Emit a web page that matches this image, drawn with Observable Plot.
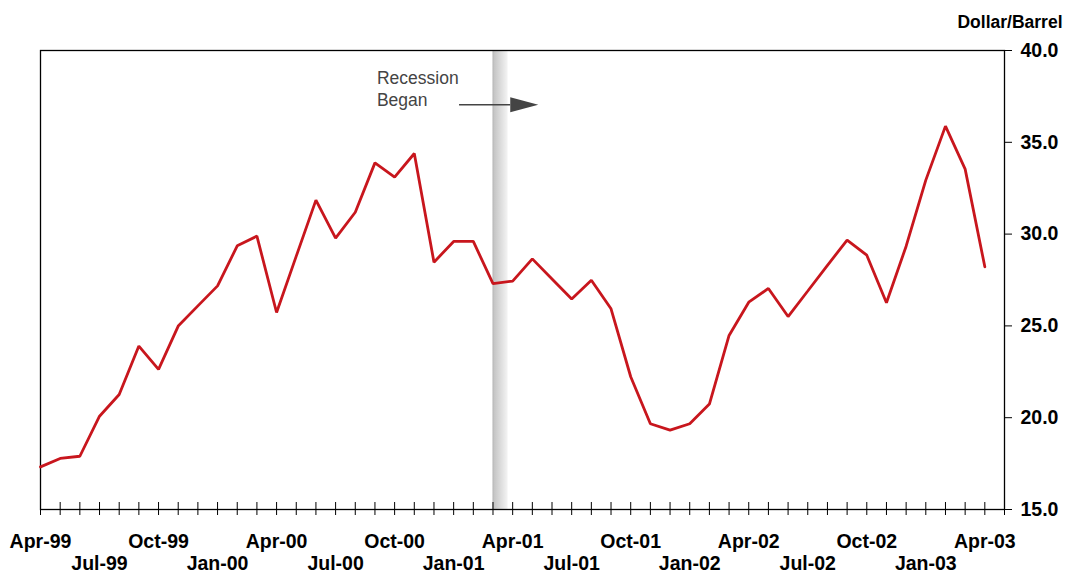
<!DOCTYPE html>
<html>
<head>
<meta charset="utf-8">
<script src="https://cdn.jsdelivr.net/npm/d3@7"></script>
<script src="https://cdn.jsdelivr.net/npm/@observablehq/plot@0.6"></script>
<style>
  html, body { margin: 0; padding: 0; background: #fff; }
  #chart svg { display: block; }
</style>
</head>
<body>
<div id="chart"></div>
<script>
// Monthly crude oil price, Apr-1999 through Apr-2003 (dollars per barrel)
const firstMonth = "Apr-99";
const prices = [
  17.32, 17.78, 17.90, 20.08, 21.26, 23.90, 22.63, 24.99, 26.09,               // 1999 Apr–Dec
  27.18, 29.36, 29.89, 25.73, 28.80, 31.85, 29.78, 31.19, 33.88, 33.10, 34.39, 28.47, // 2000
  29.60, 29.60, 27.30, 27.44, 28.65, 27.56, 26.47, 27.49, 25.93, 22.23, 19.67, 19.32, // 2001
  19.67, 20.74, 24.48, 26.29, 27.04, 25.51, 26.90, 28.30, 29.67, 28.85, 26.26, 29.34, // 2002
  32.94, 35.88, 33.54, 28.22                                                    // 2003 Jan–Apr
];

// Quarterly date labels on the month axis (one every three months)
const quarterLabels = [
  "Apr-99", "Jul-99", "Oct-99", "Jan-00", "Apr-00", "Jul-00", "Oct-00", "Jan-01", "Apr-01",
  "Jul-01", "Oct-01", "Jan-02", "Apr-02", "Jul-02", "Oct-02", "Jan-03", "Apr-03"
];

// Price axis ticks
const priceTicks = [15, 20, 25, 30, 35, 40];
const unitLabel = "Dollar/Barrel";

// Recession start (March 2001 = month index 23) and its note
const recession = [{ start: 23, end: 23.77 }];
const recessionNote = "Recession\nBegan";

const monthCount = prices.length; // axis runs one month past the last observation
const points = prices.map((p, i) => ({ month: i, price: p }));
const labels = quarterLabels.map((label, k) => ({ month: k * 3, label, row: k % 2 }));

// Filled arrowhead pointing right
const arrowHead = {
  draw(context) {
    context.moveTo(14, 0);
    context.lineTo(-14, -7.5);
    context.lineTo(-14, 7.5);
    context.closePath();
  }
};

const font = "'Liberation Sans', Arial, Helvetica, sans-serif";

const chart = Plot.plot({
  width: 1067,
  height: 574,
  marginLeft: 40,
  marginRight: 63,
  marginTop: 50,
  marginBottom: 65,
  style: { fontFamily: font, background: "#fff", overflow: "visible" },
  x: { domain: [0, monthCount], axis: null },
  y: { domain: [15, 40], axis: null },
  marks: [
    // shaded band at the start of the recession
    Plot.rect(recession, {
      x1: "start", x2: "end", y1: 15, y2: 40,
      fill: "url(#recessionShade)"
    }),
    Plot.frame({ stroke: "#000", strokeWidth: 1.3 }),

    // month tick marks crossing the bottom axis line
    Plot.ruleX(d3.range(monthCount + 1), {
      x: d => d, y1: 15, y2: 15,
      insetTop: -7, insetBottom: -6,
      stroke: "#000", strokeWidth: 1
    }),

    // right-hand price axis
    Plot.axisY({
      anchor: "right",
      ticks: priceTicks,
      tickSize: 7,
      tickPadding: 9,
      tickFormat: d => d.toFixed(1),
      fontSize: 19.5,
      fontWeight: "bold",
      fill: "#000",
      label: null
    }),
    Plot.text([unitLabel], {
      frameAnchor: "top-right", textAnchor: "end", lineAnchor: "bottom",
      dx: 58, dy: -23,
      fontSize: 17.5, fontWeight: "bold", fill: "#000"
    }),

    // quarterly labels in two staggered rows
    Plot.text(labels.filter(d => d.row === 0), {
      x: "month", text: "label", frameAnchor: "bottom", lineAnchor: "bottom",
      dy: 38, fontSize: 19.5, fontWeight: "bold", fill: "#000"
    }),
    Plot.text(labels.filter(d => d.row === 1), {
      x: "month", text: "label", frameAnchor: "bottom", lineAnchor: "bottom",
      dy: 60, fontSize: 19.5, fontWeight: "bold", fill: "#000"
    }),

    // annotation
    Plot.text([recessionNote], {
      x: 17.1, y: 39.05, textAnchor: "start", lineAnchor: "top",
      lineHeight: 1.28, fontSize: 17.5, fill: "#444"
    }),
    Plot.ruleY([37.05], { x1: 21.3, x2: 23.9, stroke: "#444", strokeWidth: 1.5 }),
    Plot.dot([{ month: 24.59, price: 37.05 }], {
      x: "month", y: "price", symbol: arrowHead, r: 5, fill: "#444", stroke: "none"
    }),

    // price series
    Plot.line(points, {
      x: "month", y: "price",
      stroke: "#c8161d", strokeWidth: 2.8, strokeLinejoin: "miter"
    })
  ]
});

chart.insertAdjacentHTML("afterbegin", `
  <defs>
    <linearGradient id="recessionShade" x1="0" x2="1" y1="0" y2="0">
      <stop offset="0" stop-color="#b4b4b4"/>
      <stop offset="0.12" stop-color="#c6c6c6"/>
      <stop offset="1" stop-color="#f4f4f4"/>
    </linearGradient>
  </defs>`);

document.getElementById("chart").appendChild(chart);
</script>
</body>
</html>
